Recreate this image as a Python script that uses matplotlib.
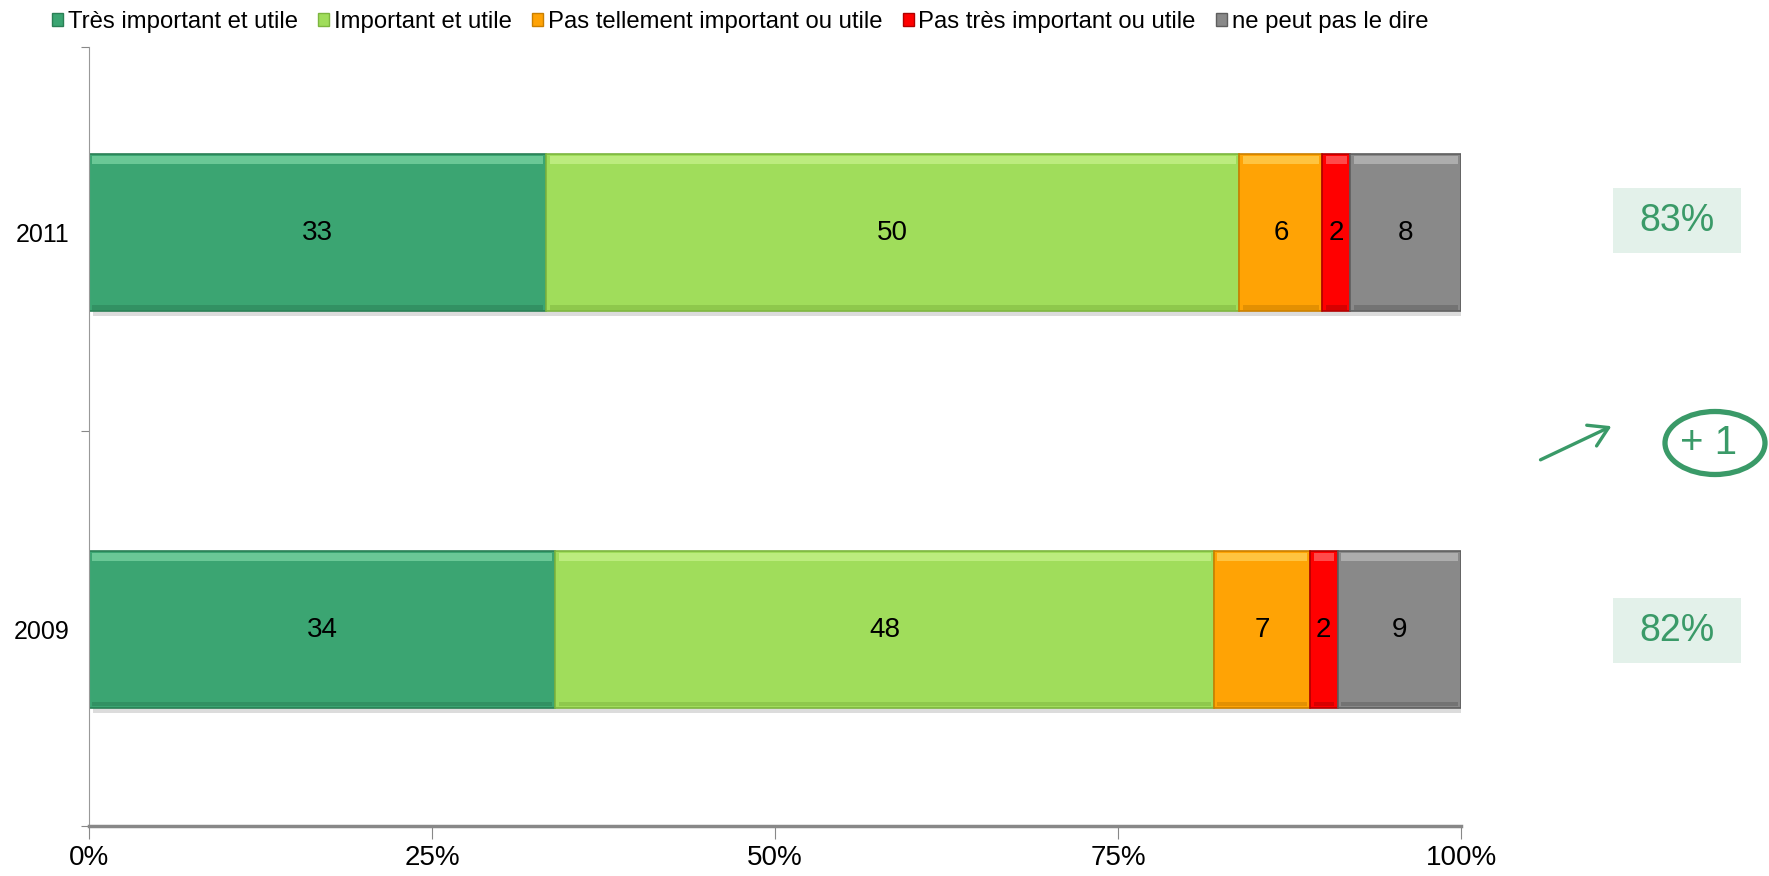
import matplotlib
matplotlib.use('Agg')
import matplotlib.pyplot as plt
import numpy as np
from matplotlib.patches import Patch, Ellipse, FancyArrowPatch, Rectangle

plt.rcParams['font.family'] = ['Liberation Sans', 'DejaVu Sans']

# data
years = ['2009', '2011']
categories = ['Très important et utile', 'Important et utile',
              'Pas tellement important ou utile', 'Pas très important ou utile',
              'ne peut pas le dire']
values = {
    'Très important et utile': [34, 33],
    'Important et utile': [48, 50],
    'Pas tellement important ou utile': [7, 6],
    'Pas très important ou utile': [2, 2],
    'ne peut pas le dire': [9, 8],
}
colors = ['#3BA572', '#A0DD5B', '#FFA305', '#FF0000', '#898989']
edges = ['#2A7F55', '#7DB53F', '#C97F00', '#B00000', '#5E5E5E']
lights = ['#7FD8A6', '#C8F38E', '#FFD35A', '#FF6A6A', '#BDBDBD']

W, H = 1769, 876
fig = plt.figure(figsize=(W / 100, H / 100), dpi=100)
ax = fig.add_axes([89 / W, 1 - 826 / H, (1461 - 89) / W, (826 - 47) / H])

y = np.arange(len(years))
bh = 0.395
totals = np.sum([values[c] for c in categories], axis=0)
left = np.zeros(len(years))
for cat, col, ec, lc in zip(categories, colors, edges, lights):
    v = np.array(values[cat], dtype=float)
    share = v / totals * 100
    # soft shadow under the bar
    ax.barh(y - 0.012, share, left=left + 0.3, height=bh, color='#dcdcdc',
            edgecolor='none', zorder=1)
    ax.barh(y, share, left=left, height=bh, color=col, edgecolor=ec,
            linewidth=1.2, zorder=2)
    # bevel: light band on top, darker band at the bottom
    ax.barh(y + bh / 2 - 0.014, share - 0.5, left=left + 0.25, height=0.02,
            color=lc, alpha=0.7, edgecolor='none', zorder=2.5)
    ax.barh(y - bh / 2 + 0.01, share - 0.5, left=left + 0.25, height=0.012,
            color=ec, alpha=0.5, edgecolor='none', zorder=2.5)
    for yi, s, l, raw in zip(y, share, left, v):
        ax.text(l + s / 2, yi, f'{int(raw)}', ha='center', va='center',
                fontsize=20, color='black', zorder=3)
    left += share

ax.set_xlim(0, 100)
ax.set_ylim(-0.495, 1.468)
ax.set_xticks([0, 25, 50, 75, 100])
ax.set_xticklabels(['0%', '25%', '50%', '75%', '100%'], fontsize=20)
ax.set_yticks([-0.495, 0.5, 1.468])
ax.set_yticklabels([])
ax.set_yticks(y, minor=True)
ax.set_yticklabels(years, minor=True, fontsize=18)
ax.tick_params(axis='y', which='minor', length=0, pad=14)
ax.tick_params(axis='y', which='major', length=6, color='#888888')
ax.tick_params(axis='x', length=9, color='#888888', pad=5)
for s in ['top', 'right']:
    ax.spines[s].set_visible(False)
ax.spines['left'].set_color('#999999')
ax.spines['bottom'].set_color('#888888')
ax.spines['bottom'].set_linewidth(2.5)

handles = [Patch(facecolor=c, edgecolor=e, label=l) for c, e, l in zip(colors, edges, categories)]
fig.legend(handles=handles, loc='upper left', bbox_to_anchor=(52 / W, 1 - 11 / H),
           ncol=5, frameon=False, fontsize=17.2, handlelength=0.46, handleheight=0.46,
           handletextpad=0.2, columnspacing=0.85, borderaxespad=0, borderpad=0)

# annotations on the right, in pixel coordinates
ov = fig.add_axes([0, 0, 1, 1])
ov.set_xlim(0, W)
ov.set_ylim(H, 0)
ov.axis('off')
green = '#3A9A68'
top2 = np.array(values[categories[0]]) + np.array(values[categories[1]])
box_y = {'2011': 220, '2009': 630}
for yr, t in zip(years, top2):
    cy = box_y[yr]
    ov.add_patch(Rectangle((1613, cy - 32), 128, 65, facecolor='#E3F1EA', edgecolor='none'))
    ov.text(1677, cy + 1, f'{t}%', ha='center', va='center', fontsize=27, color=green)
ov.add_patch(FancyArrowPatch((1538, 461), (1614, 425), arrowstyle='->,head_length=9,head_width=5.5',
                             color=green, lw=2.4, mutation_scale=1.5))
ov.add_patch(Ellipse((1715, 443), 100, 63, facecolor='none', edgecolor=green, lw=3.8))
diff = top2[1] - top2[0]
ov.text(1709, 443, f'+ {diff}', ha='center', va='center', fontsize=29, color=green)

fig.savefig('out.png', dpi=100, facecolor='white')
